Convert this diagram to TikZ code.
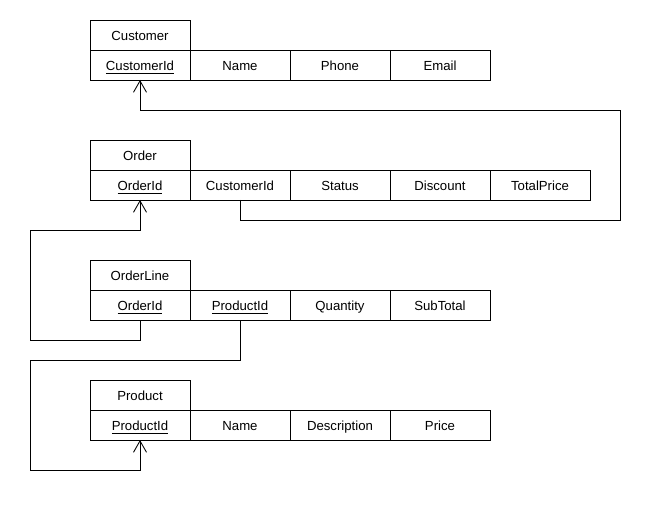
\documentclass[tikz,border=0pt]{standalone}
\usepackage{fontspec}
\setmainfont{Liberation Sans}
\usetikzlibrary{positioning,arrows.meta}
\begin{document}
\begin{tikzpicture}[
    cell/.style={draw,line width=0.5pt,minimum width=2cm,minimum height=0.6cm,inner sep=0pt,outer sep=0pt,text height=1.6ex,text depth=0.35ex,font=\fontsize{7.5}{9}\selectfont},
    fk/.style={draw,line width=0.5pt,-{Straight Barb[length=6.5pt,width=7.4pt]}}]
        \useasboundingbox (0,0) rectangle (13.2,-10.2);
        %Customer
        \node[cell] (cust) at (2.8,-0.7) {Customer};
        \node[cell,below=0pt of cust] (ccid) {\underline{CustomerId}};
        \node[cell,right=0pt of ccid] (cname) {Name};
        \node[cell,right=0pt of cname] (cphone) {Phone};
        \node[cell,right=0pt of cphone] (cmail) {Email};
        %Order
        \node[cell] (ord) at (2.8,-3.1) {Order};
        \node[cell,below=0pt of ord] (oid) {\underline{OrderId}};
        \node[cell,right=0pt of oid] (ocust) {CustomerId};
        \node[cell,right=0pt of ocust] (ostat) {Status};
        \node[cell,right=0pt of ostat] (odisc) {Discount};
        \node[cell,right=0pt of odisc] (otot) {TotalPrice};
        %OrderLine
        \node[cell] (oline) at (2.8,-5.5) {OrderLine};
        \node[cell,below=0pt of oline] (olo) {\underline{OrderId}};
        \node[cell,right=0pt of olo] (olp) {\underline{ProductId}};
        \node[cell,right=0pt of olp] (olq) {Quantity};
        \node[cell,right=0pt of olq] (olsub) {SubTotal};
        %Product
        \node[cell] (prod) at (2.8,-7.9) {Product};
        \node[cell,below=0pt of prod] (pid) {\underline{ProductId}};
        \node[cell,right=0pt of pid] (pname) {Name};
        \node[cell,right=0pt of pname] (pdesc) {Description};
        \node[cell,right=0pt of pdesc] (pprice) {Price};
        % Chiavi esterne
        \draw[fk] (ocust.south) -- ++(0,-0.4) -- ++(7.6,0) |- ([yshift=-0.6cm]ccid.south) -- (ccid.south);
        \draw[fk] (olo.south) -- ++(0,-0.4) -- ++(-2.2,0) |- ([yshift=-0.6cm]oid.south) -- (oid.south);
        \draw[fk] (olp.south) -- ++(0,-0.8) -- ++(-4.2,0) |- ([yshift=-0.6cm]pid.south) -- (pid.south);
\end{tikzpicture}
\end{document}
